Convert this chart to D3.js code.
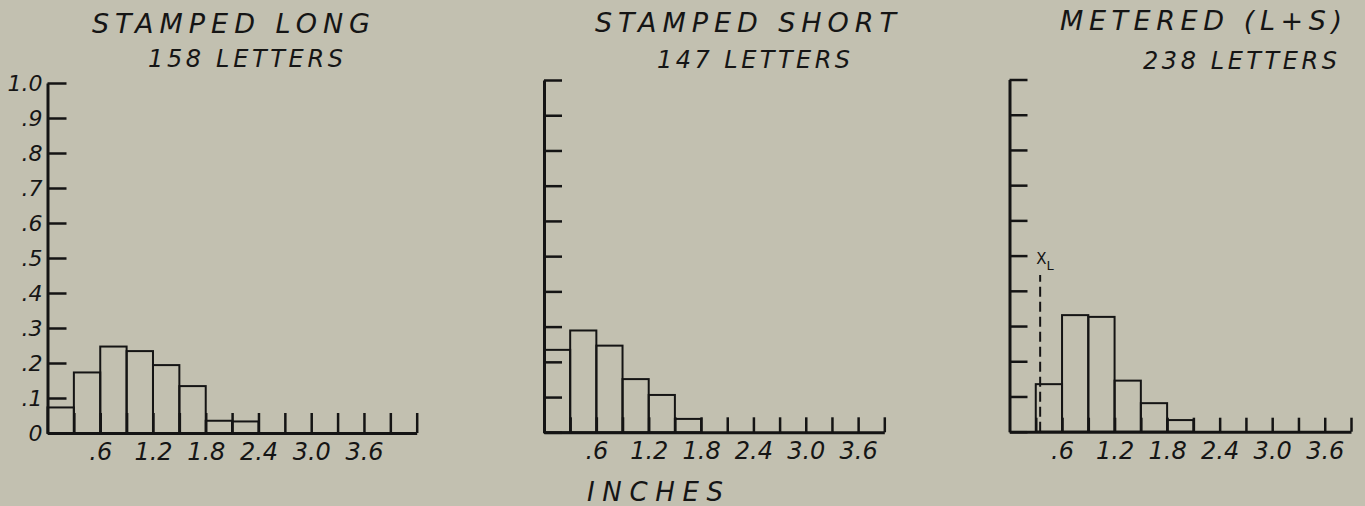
<!DOCTYPE html>
<html>
<head>
<meta charset="utf-8">
<script src="https://cdn.jsdelivr.net/npm/d3@7"></script>
<style>
  html, body { margin: 0; padding: 0; background: #c2c0b0; }
  svg { display: block; }
  text { font-family: "DejaVu Sans", "Liberation Sans", sans-serif; font-style: oblique; fill: #151515; }
</style>
</head>
<body>
<svg id="chart" width="1365" height="506"></svg>
<script>
// Letter-length distributions (fraction of letters per 0.3-inch bin)
const binWidth = 0.3;

const stampedLongBins  = [0.0, 0.3, 0.6, 0.9, 1.2, 1.5, 1.8, 2.1];
const stampedLongShare = [0.073, 0.173, 0.247, 0.234, 0.194, 0.134, 0.035, 0.033];

const stampedShortBins  = [0.0, 0.3, 0.6, 0.9, 1.2, 1.5];
const stampedShortShare = [0.234, 0.289, 0.246, 0.151, 0.106, 0.038];

const meteredBins  = [0.3, 0.6, 0.9, 1.2, 1.5, 1.8];
const meteredShare = [0.135, 0.331, 0.326, 0.145, 0.081, 0.033];

// lower length limit marked on the metered panel
const meteredXL = 0.35;

const panelTitles = ["STAMPED LONG", "STAMPED SHORT", "METERED (L+S)"];
const panelCounts = ["158 LETTERS", "147 LETTERS", "238 LETTERS"];

const yTickValues = [0, 0.1, 0.2, 0.3, 0.4, 0.5, 0.6, 0.7, 0.8, 0.9, 1.0];
const yTickLabels = ["0", ".1", ".2", ".3", ".4", ".5", ".6", ".7", ".8", ".9", "1.0"];
const xLabelValues = [0.6, 1.2, 1.8, 2.4, 3.0, 3.6];
const xLabelTexts  = [".6", "1.2", "1.8", "2.4", "3.0", "3.6"];

// Panel geometry
const panels = [
  { bins: stampedLongBins, share: stampedLongShare, xMax: 4.2,
    x0: 47.5, x1: 416.7, yBase: 433, yTop: 83, tickH: 20, yTickLen: 19, showYLabels: true,
    title: { x: 92, w: 278, y: 33 }, sub: { x: 148, w: 195, y: 67 } },
  { bins: stampedShortBins, share: stampedShortShare, xMax: 3.9,
    x0: 544, x1: 884.3, yBase: 432.3, yTop: 80, tickH: 15, yTickLen: 18, showYLabels: false,
    title: { x: 595, w: 301, y: 32 }, sub: { x: 657, w: 193, y: 68 } },
  { bins: meteredBins, share: meteredShare, xMax: 3.9, xl: meteredXL,
    x0: 1009.5, x1: 1351, yBase: 431.7, yTop: 79.5, tickH: 14, yTickLen: 18, showYLabels: false,
    title: { x: 1060, w: 282, y: 30 }, sub: { x: 1143, w: 194, y: 69 } }
];

const svg = d3.select("#chart");
svg.append("rect").attr("width", 1365).attr("height", 506).attr("fill", "#c2c0b0");

const ink = "#141414";

panels.forEach((p, i) => {
  const x = d3.scaleLinear().domain([0, p.xMax]).range([p.x0, p.x1]);
  const y = d3.scaleLinear().domain([0, 1]).range([p.yBase, p.yTop]);
  const g = svg.append("g");

  // histogram bars
  g.append("g").selectAll("rect")
    .data(p.bins.map((b, k) => ({ start: b, v: p.share[k] })))
    .join("rect")
    .attr("x", d => x(d.start))
    .attr("width", d => x(d.start + binWidth) - x(d.start))
    .attr("y", d => y(d.v))
    .attr("height", d => y(0) - y(d.v))
    .attr("fill", "none")
    .attr("stroke", ink)
    .attr("stroke-width", 2);

  // inward bin ticks along the length axis
  const binTicks = d3.range(1, Math.round(p.xMax / binWidth) + 1).map(k => +(k * binWidth).toFixed(2));
  const xTickAxis = d3.axisBottom(x).tickValues(binTicks).tickSizeInner(-p.tickH).tickSizeOuter(0).tickFormat("");
  const gx = g.append("g").attr("transform", `translate(0,${p.yBase})`).call(xTickAxis);
  gx.select(".domain").attr("stroke", ink).attr("stroke-width", 3);
  gx.selectAll(".tick line").attr("stroke", ink).attr("stroke-width", 2.5);

  // length labels
  const xLabAxis = d3.axisBottom(x).tickValues(xLabelValues).tickSize(0).tickPadding(10)
    .tickFormat((d, k) => xLabelTexts[k]);
  const gxl = g.append("g").attr("transform", `translate(0,${p.yBase})`).call(xLabAxis);
  gxl.select(".domain").remove();
  gxl.attr("font-size", null).attr("font-family", null);
  gxl.selectAll("text").style("font-size", "24px").attr("fill", ink);

  // fraction axis with inward ticks
  const yAxis = d3.axisLeft(y).tickValues(yTickValues).tickSizeInner(-p.yTickLen).tickSizeOuter(0)
    .tickPadding(5)
    .tickFormat((d, k) => p.showYLabels ? yTickLabels[k] : "");
  const gy = g.append("g").attr("transform", `translate(${p.x0},0)`).call(yAxis);
  gy.attr("font-size", null).attr("font-family", null);
  gy.select(".domain").attr("stroke", ink).attr("stroke-width", 3);
  gy.selectAll(".tick line").attr("stroke", ink).attr("stroke-width", 2.5);
  gy.selectAll("text").style("font-size", "22px").attr("fill", ink);

  // panel headings
  g.append("text").attr("x", p.title.x).attr("y", p.title.y)
    .style("font-size", "27px").attr("textLength", p.title.w).attr("lengthAdjust", "spacing")
    .text(panelTitles[i]);
  g.append("text").attr("x", p.sub.x).attr("y", p.sub.y)
    .style("font-size", "24px").attr("textLength", p.sub.w).attr("lengthAdjust", "spacing")
    .text(panelCounts[i]);

  // X_L marker
  if (p.xl !== undefined) {
    g.append("line")
      .attr("x1", x(p.xl)).attr("x2", x(p.xl))
      .attr("y1", p.yBase).attr("y2", y(0.445))
      .attr("stroke", ink).attr("stroke-width", 2)
      .attr("stroke-dasharray", "10,5");
    const t = g.append("text").attr("x", x(p.xl) - 4).attr("y", y(0.475))
      .style("font-size", "15px").style("font-style", "normal");
    t.append("tspan").text("X");
    t.append("tspan").attr("dy", 6).style("font-size", "13px").text("L");
  }
});

// shared length-axis caption
svg.append("text").attr("x", 587).attr("y", 501)
  .style("font-size", "26px").attr("textLength", 136).attr("lengthAdjust", "spacing")
  .text("INCHES");
</script>
</body>
</html>
